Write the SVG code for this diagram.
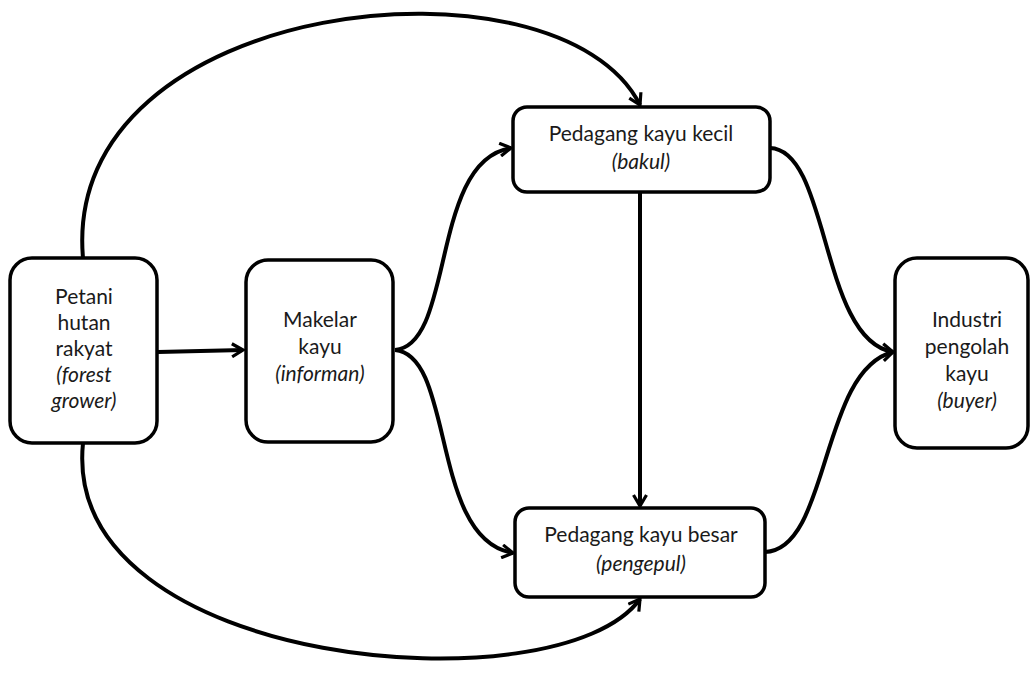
<svg xmlns="http://www.w3.org/2000/svg" width="1030" height="688" viewBox="0 0 1030 688">
<style>
.box{fill:#fff;stroke:#000;stroke-width:3.5}
.t{font-family:Lato,"Open Sans",sans-serif;font-size:21px;fill:#1a1a1a;text-anchor:middle}
.i{font-style:italic}
.c{fill:none;stroke:#000;stroke-width:4}
</style>
<defs>
<marker id="ah" viewBox="0 0 16 16" refX="13" refY="8" markerWidth="16" markerHeight="16" markerUnits="userSpaceOnUse" orient="auto">
<path d="M2,1.5 L13,8 L2,14.5" fill="none" stroke="#000" stroke-width="3.2"/>
</marker>
</defs>
<rect width="1030" height="688" fill="#fff"/>
<g id="connectors">
<path class="c" marker-end="url(#ah)" d="M158,352 L243,350"/>
<path class="c" marker-end="url(#ah)" d="M395,350 C455,345 430,160 511,148"/>
<path class="c" marker-end="url(#ah)" d="M395,350 C455,355 430,540 513,553"/>
<path class="c" marker-end="url(#ah)" d="M640,192 L640,506"/>
<path class="c" marker-end="url(#ah)" d="M770,148 C830,150 820,340 893,352"/>
<path class="c" marker-end="url(#ah)" d="M765,552 C830,550 820,370 893,352"/>
<path class="c" marker-end="url(#ah)" d="M83,258 C60,-5 560,-55 640,105"/>
<path class="c" marker-end="url(#ah)" d="M83,443 C60,670 560,710 640,599"/>
</g>
<g id="petani">
<rect class="box" x="10" y="258" width="147" height="185" rx="22"/>
<text class="t" x="84" y="304">Petani</text>
<text class="t" x="84" y="330">hutan</text>
<text class="t" x="84" y="356">rakyat</text>
<text class="t i" x="84" y="382">(forest</text>
<text class="t i" x="84" y="408">grower)</text>
</g>
<g id="makelar">
<rect class="box" x="246" y="260" width="147" height="182" rx="22"/>
<text class="t" x="320" y="327">Makelar</text>
<text class="t" x="320" y="354">kayu</text>
<text class="t i" x="320" y="381">(informan)</text>
</g>
<g id="kecil">
<rect class="box" x="513" y="107" width="257" height="85" rx="14"/>
<text class="t" x="641" y="141">Pedagang kayu kecil</text>
<text class="t i" x="641" y="169">(bakul)</text>
</g>
<g id="besar">
<rect class="box" x="515" y="508" width="250" height="89" rx="14"/>
<text class="t" x="641" y="542">Pedagang kayu besar</text>
<text class="t i" x="641" y="571">(pengepul)</text>
</g>
<g id="industri">
<rect class="box" x="895" y="258" width="133" height="190" rx="22"/>
<text class="t" x="967" y="327">Industri</text>
<text class="t" x="967" y="354">pengolah</text>
<text class="t" x="967" y="381">kayu</text>
<text class="t i" x="967" y="408">(buyer)</text>
</g>
</svg>
